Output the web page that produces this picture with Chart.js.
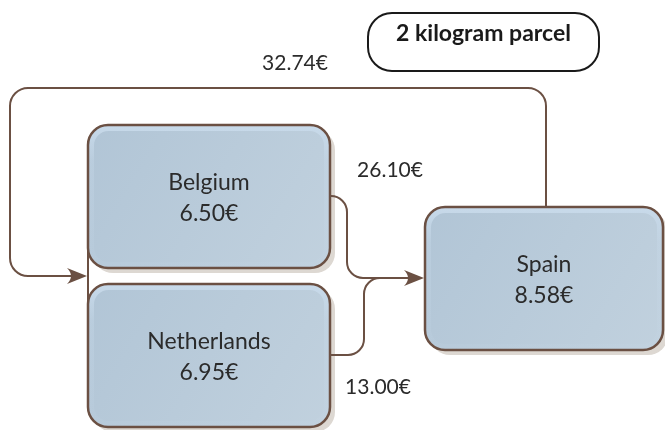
<!DOCTYPE html>
<html>
<head>
<meta charset="utf-8">
<script src="https://cdn.jsdelivr.net/npm/chart.js@4/dist/chart.umd.min.js"></script>
<style>
html,body{margin:0;padding:0;background:#fff;}
#wrap{width:665px;height:430px;}
</style>
</head>
<body>
<div id="wrap"><canvas id="c" width="665" height="430"></canvas></div>
<script>
// ---- data ----
const titleText = '2 kilogram parcel';
const nodes = ['Belgium', 'Netherlands', 'Spain'];
const nodePrices = [6.50, 6.95, 8.58];
const routeFrom = ['Belgium', 'Netherlands', 'Spain'];
const routeTo = ['Spain', 'Spain', 'Belgium'];
const routePrices = [26.10, 13.00, 32.74];

// ---- layout (scale units) ----
const boxes = {
  Belgium: [88, 125, 330, 268],
  Netherlands: [88, 284, 330, 427],
  Spain: [425, 207, 663, 350]
};
const priceLabelPos = [[390, 170], [378, 387], [295, 63]];
const titleBox = [368, 13, 599, 71];

const LINE = '#6b5043';
const fmt = v => v.toFixed(2) + '€';
const FONT = 'Lato, "Open Sans", sans-serif';

function rr(ctx, x, y, w, h, r) {
  ctx.beginPath();
  ctx.moveTo(x + r, y);
  ctx.lineTo(x + w - r, y);
  ctx.arcTo(x + w, y, x + w, y + r, r);
  ctx.lineTo(x + w, y + h - r);
  ctx.arcTo(x + w, y + h, x + w - r, y + h, r);
  ctx.lineTo(x + r, y + h);
  ctx.arcTo(x, y + h, x, y + h - r, r);
  ctx.lineTo(x, y + r);
  ctx.arcTo(x, y, x + r, y, r);
  ctx.closePath();
}
function poly(ctx, pts, r) {
  ctx.beginPath();
  ctx.moveTo(pts[0][0], pts[0][1]);
  for (let i = 1; i < pts.length - 1; i++) {
    ctx.arcTo(pts[i][0], pts[i][1], pts[i + 1][0], pts[i + 1][1], r);
  }
  ctx.lineTo(pts[pts.length - 1][0], pts[pts.length - 1][1]);
  ctx.stroke();
}
function arrowHead(ctx, x, y) {
  ctx.beginPath();
  ctx.moveTo(x, y);
  ctx.lineTo(x - 20, y - 8);
  ctx.quadraticCurveTo(x - 12, y, x - 20, y + 8);
  ctx.closePath();
  ctx.fill();
}

const diagram = {
  id: 'diagram',
  afterDatasetsDraw(chart) {
    const ctx = chart.ctx;
    const sx = chart.scales.x, sy = chart.scales.y;
    const X = v => sx.getPixelForValue(v);
    const Y = v => sy.getPixelForValue(v);
    const B = n => { const b = boxes[n]; return [X(b[0]), Y(b[1]), X(b[2]), Y(b[3])]; };
    ctx.save();
    ctx.strokeStyle = LINE;
    ctx.fillStyle = LINE;
    ctx.lineWidth = 2;

    const bel = B('Belgium'), net = B('Netherlands'), spa = B('Spain');

    // bracket joining Belgium & Netherlands on the left
    ctx.beginPath();
    ctx.moveTo(bel[0], (bel[1] + bel[3]) / 2);
    ctx.lineTo(bel[0], (net[1] + net[3]) / 2);
    ctx.stroke();

    // loop: Spain -> back to Belgium/Netherlands
    const joinY = (bel[3] + net[1]) / 2;
    const topY = Y(88), leftX = X(10), spX = X(546);
    poly(ctx, [[spX, spa[1]], [spX, topY], [leftX, topY], [leftX, joinY], [bel[0] - 14, joinY]], 18);
    arrowHead(ctx, bel[0] - 1, joinY);

    // boxes
    nodes.forEach((n, i) => {
      const b = B(n);
      const w = b[2] - b[0], h = b[3] - b[1];
      ctx.save();
      ctx.fillStyle = '#ddd8d2';
      rr(ctx, b[0] + 5, b[1] + 5, w, h, 20);
      ctx.fill();
      const g = ctx.createLinearGradient(b[0], b[1], b[2], b[3]);
      g.addColorStop(0, '#b1c5d6');
      g.addColorStop(1, '#c1d1de');
      ctx.fillStyle = g;
      rr(ctx, b[0], b[1], w, h, 20);
      ctx.fill();
      // inner highlight rim (stronger at top)
      const hg = ctx.createLinearGradient(0, b[1], 0, b[3]);
      hg.addColorStop(0, 'rgba(200,218,234,1)');
      hg.addColorStop(0.25, 'rgba(200,218,234,0.35)');
      hg.addColorStop(1, 'rgba(200,218,234,0.1)');
      ctx.strokeStyle = hg;
      ctx.lineWidth = 5;
      rr(ctx, b[0] + 3.5, b[1] + 3.5, w - 7, h - 7, 17);
      ctx.stroke();
      ctx.strokeStyle = LINE;
      ctx.lineWidth = 2.5;
      rr(ctx, b[0], b[1], w, h, 20);
      ctx.stroke();
      ctx.fillStyle = '#2b2b2b';
      ctx.font = '23px ' + FONT;
      ctx.textAlign = 'center';
      ctx.textBaseline = 'middle';
      const cx = (b[0] + b[2]) / 2, cy = (b[1] + b[3]) / 2;
      ctx.fillText(n, cx, cy - 14);
      ctx.fillText(fmt(nodePrices[i]), cx, cy + 17);
      ctx.restore();
    });

    // Belgium & Netherlands -> Spain
    const spY = Y(278);
    ctx.strokeStyle = LINE;
    ctx.lineWidth = 2;
    poly(ctx, [[bel[2], Y(196)], [X(347), Y(196)], [X(347), spY], [spa[0] - 12, spY]], 16);
    poly(ctx, [[net[2], Y(355)], [X(364), Y(355)], [X(364), spY], [X(400), spY]], 16);
    arrowHead(ctx, spa[0] - 1, spY);

    // route price labels
    ctx.fillStyle = '#2b2b2b';
    ctx.font = '21px ' + FONT;
    ctx.textAlign = 'center';
    ctx.textBaseline = 'middle';
    routePrices.forEach((p, i) => {
      ctx.fillText(fmt(p), X(priceLabelPos[i][0]), Y(priceLabelPos[i][1]));
    });

    // title box
    const t = [X(titleBox[0]), Y(titleBox[1]), X(titleBox[2]), Y(titleBox[3])];
    ctx.strokeStyle = '#1a1a1a';
    ctx.lineWidth = 2;
    rr(ctx, t[0], t[1], t[2] - t[0], t[3] - t[1], 24);
    ctx.stroke();
    ctx.fillStyle = '#1a1a1a';
    ctx.font = 'bold 23px ' + FONT;
    ctx.fillText(titleText, (t[0] + t[2]) / 2, t[1] + 21);
    ctx.restore();
  }
};

new Chart(document.getElementById('c'), {
  type: 'scatter',
  data: {
    datasets: [{
      label: 'nodes',
      data: nodes.map(n => ({ x: (boxes[n][0] + boxes[n][2]) / 2, y: (boxes[n][1] + boxes[n][3]) / 2 })),
      pointRadius: 0,
      pointHoverRadius: 0
    }]
  },
  options: {
    responsive: false,
    animation: false,
    events: [],
    layout: { padding: 0 },
    plugins: { legend: { display: false }, tooltip: { enabled: false } },
    scales: {
      x: { type: 'linear', min: 0, max: 665, display: false },
      y: { type: 'linear', min: 0, max: 430, reverse: true, display: false }
    }
  },
  plugins: [diagram]
});
</script>
</body>
</html>
